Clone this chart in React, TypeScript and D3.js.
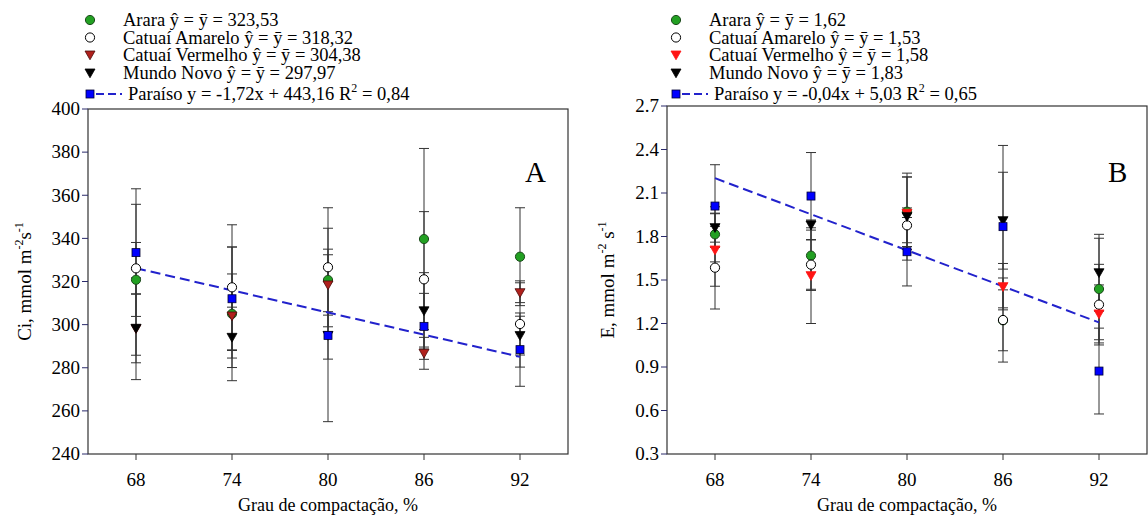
import React from 'react';
import * as d3 from 'd3';

// grau de compactação (%)
const grau = [68, 74, 80, 86, 92];

// Ci (painel A)
const ciArara = [320.8, 305.0, 320.7, 339.7, 331.5];
const ciAraraErr = [35, 31, 24, 42, 22.7];
const ciAmarelo = [326.1, 317.3, 326.6, 321.0, 300.3];
const ciAmareloErr = [12, 29, 27.6, 31.4, 20];
const ciVermelho = [298.1, 304.0, 318.4, 286.7, 314.8];
const ciVermelhoErr = [23.6, 19.5, 14, 7.4, 4.6];
const ciMundo = [298.3, 294.1, 295.0, 306.4, 294.9];
const ciMundoErr = [16, 14, 11, 17.7, 9];
const ciParaiso = [333.4, 312.0, 295.0, 299.2, 288.4];
const ciParaisoErr = [29.6, 24, 40, 15.3, 17];

// E (painel B)
const eArara = [1.815, 1.668, 1.971, 1.222, 1.438];
const eAraraErr = [0.19, 0.24, 0.24, 0.21, 0.35];
const eAmarelo = [1.585, 1.606, 1.877, 1.224, 1.33];
const eAmareloErr = [0.285, 0.17, 0.12, 0.29, 0.278];
const eVermelho = [1.707, 1.53, 1.96, 1.454, 1.266];
const eVermelhoErr = [0.25, 0.33, 0.25, 0.16, 0.2];
const eMundo = [1.861, 1.879, 1.937, 1.909, 1.55];
const eMundoErr = [0.1, 0.035, 0.3, 0.334, 0.265];
const eParaiso = [2.01, 2.079, 1.695, 1.868, 0.872];
const eParaisoErr = [0.285, 0.3, 0.236, 0.56, 0.296];

const ciTicks = [240, 260, 280, 300, 320, 340, 360, 380, 400];
const eTicks = [0.3, 0.6, 0.9, 1.2, 1.5, 1.8, 2.1, 2.4, 2.7];

const legendA = [
  'Arara ŷ = ȳ = 323,53',
  'Catuaí Amarelo ŷ = ȳ = 318,32',
  'Catuaí Vermelho ŷ = ȳ = 304,38',
  'Mundo Novo ŷ = ȳ = 297,97',
  'Paraíso y = -1,72x + 443,16 R',
];
const legendB = [
  'Arara ŷ = ȳ = 1,62',
  'Catuaí Amarelo ŷ = ȳ = 1,53',
  'Catuaí Vermelho ŷ = ȳ = 1,58',
  'Mundo Novo ŷ = ȳ = 1,83',
  'Paraíso y = -0,04x + 5,03 R',
];
const r2A = ' = 0,84';
const r2B = ' = 0,65';

const serif = 'Liberation Serif';

function Marker({ shape, x, y, fill, stroke }) {
  if (shape === 'circle') {
    return <circle cx={x} cy={y} r={4.6} fill={fill} stroke={stroke} strokeWidth={1} />;
  }
  if (shape === 'square') {
    return <rect x={x - 4} y={y - 4} width={8} height={8} fill={fill} stroke={stroke} strokeWidth={0.8} />;
  }
  // triangulo invertido
  const s = 5;
  return (
    <path
      d={`M${x - s},${y - s * 0.8} L${x + s},${y - s * 0.8} L${x},${y + s * 0.95} Z`}
      fill={fill}
      stroke={stroke}
      strokeWidth={0.8}
    />
  );
}

function Panel({ left, right, top, bottom, yDomain, yTicks, tickFmt, series, legend, r2, legX, letter, letterX, yTitle, yTitleX, sGap }) {
  const x = d3.scaleLinear().domain([65, 95]).range([left, right]);
  const y = d3.scaleLinear().domain(yDomain).range([bottom, top]);

  // ajuste linear do Paraíso
  const par = series[4].values;
  const mx = d3.mean(grau);
  const my = d3.mean(par);
  const slope = d3.sum(grau, (g, i) => (g - mx) * (par[i] - my)) / d3.sum(grau, (g) => (g - mx) ** 2);
  const fit = (g) => my + slope * (g - mx);
  const line = d3.line().x((d) => x(d)).y((d) => y(fit(d)));

  const rows = [26, 43.5, 61, 79, 100];
  const textX = legX + 33;

  return (
    <g>
      {/* legenda */}
      {legend.map((t, i) => (
        <g key={i}>
          <Marker shape={series[i].shape} x={legX} y={rows[i] - 6} fill={series[i].fill} stroke={series[i].stroke} />
          {i < 4 ? (
            <text x={textX} y={rows[i]} fontSize={18.5} fontFamily={serif}>{t}</text>
          ) : (
            <>
              <line x1={legX + 6} x2={legX + 32} y1={rows[i] - 6} y2={rows[i] - 6} stroke="#2222cc" strokeWidth={2} strokeDasharray="8,4" />
              <text x={textX + 5} y={rows[i]} fontSize={18.5} fontFamily={serif}>
                {t}
                <tspan dy={-8} fontSize={12}>2</tspan>
                <tspan dy={8}>{r2}</tspan>
              </text>
            </>
          )}
        </g>
      ))}

      {/* moldura */}
      <rect x={left} y={top} width={right - left} height={bottom - top} fill="none" stroke="#333" strokeWidth={1.2} />

      {/* eixo y */}
      {yTicks.map((t) => (
        <g key={t}>
          <line x1={left - 6} x2={left} y1={y(t)} y2={y(t)} stroke="#2a2a6a" strokeWidth={1} />
          <text x={left - 8} y={y(t)} dy="0.33em" textAnchor="end" fontSize={19} fontFamily={serif}>{tickFmt(t)}</text>
        </g>
      ))}
      <text transform={`translate(${yTitleX},${(top + bottom) / 2}) rotate(-90)`} textAnchor="middle" fontSize={19} fontFamily={serif}>
        {yTitle}
        <tspan dy={-8} fontSize={12}>-2</tspan>
        <tspan dy={8}>{sGap ? ' s' : 's'}</tspan>
        <tspan dy={-8} fontSize={12}>-1</tspan>
      </text>

      {/* eixo x */}
      {grau.map((g) => (
        <g key={g}>
          <line x1={x(g)} x2={x(g)} y1={bottom} y2={bottom + 6} stroke="#333" strokeWidth={1} />
          <text x={x(g)} y={486} textAnchor="middle" fontSize={19} fontFamily={serif}>{g}</text>
        </g>
      ))}
      <text x={x(80)} y={511} textAnchor="middle" fontSize={18} fontFamily={serif}>Grau de compactação, %</text>

      {/* barras de erro */}
      {series.map((s, si) =>
        grau.map((g, i) => {
          const hi = y(s.values[i] + s.err[i]);
          const lo = y(s.values[i] - s.err[i]);
          const cx = x(g);
          return (
            <g key={`${si}-${i}`} stroke="#333" strokeWidth={1}>
              <line x1={cx} x2={cx} y1={hi} y2={lo} />
              <line x1={cx - 5} x2={cx + 5} y1={hi} y2={hi} />
              <line x1={cx - 5} x2={cx + 5} y1={lo} y2={lo} />
            </g>
          );
        })
      )}

      {/* regressão */}
      <path d={line([grau[0], grau[grau.length - 1]])} fill="none" stroke="#2222cc" strokeWidth={2} strokeDasharray="10,5" />

      {/* pontos */}
      {series.map((s, si) =>
        grau.map((g, i) => (
          <Marker key={`m${si}-${i}`} shape={s.shape} x={x(g)} y={y(s.values[i])} fill={s.fill} stroke={s.stroke} />
        ))
      )}

      <text x={letterX} y={182} fontSize={29} fontFamily={serif}>{letter}</text>
    </g>
  );
}

export default function App() {
  const seriesA = [
    { shape: 'circle', fill: '#22a022', stroke: '#1c4a1c', values: ciArara, err: ciAraraErr },
    { shape: 'circle', fill: '#ffffff', stroke: '#000', values: ciAmarelo, err: ciAmareloErr },
    { shape: 'tri', fill: '#b0201c', stroke: '#4a0a0a', values: ciVermelho, err: ciVermelhoErr },
    { shape: 'tri', fill: '#000', stroke: '#000', values: ciMundo, err: ciMundoErr },
    { shape: 'square', fill: '#0000ff', stroke: '#000033', values: ciParaiso, err: ciParaisoErr },
  ];
  const seriesB = [
    { shape: 'circle', fill: '#22a022', stroke: '#1c4a1c', values: eArara, err: eAraraErr },
    { shape: 'circle', fill: '#ffffff', stroke: '#000', values: eAmarelo, err: eAmareloErr },
    { shape: 'tri', fill: '#ff1414', stroke: '#ff1414', values: eVermelho, err: eVermelhoErr },
    { shape: 'tri', fill: '#000', stroke: '#000', values: eMundo, err: eMundoErr },
    { shape: 'square', fill: '#0000ff', stroke: '#000033', values: eParaiso, err: eParaisoErr },
  ];

  return (
    <svg width={1148} height={523} fontFamily={serif} style={{ position: 'absolute', left: 0, top: 0, background: '#fff' }}>
      <Panel
        left={88} right={568} top={109} bottom={454}
        yDomain={[240, 400]} yTicks={ciTicks} tickFmt={(t) => String(t)}
        series={seriesA} legend={legendA} r2={r2A} legX={90}
        letter="A" letterX={525}
        yTitle="Ci, mmol m" yTitleX={31} sGap={false}
      />
      <Panel
        left={667} right={1147} top={106} bottom={454}
        yDomain={[0.3, 2.7]} yTicks={eTicks} tickFmt={(t) => t.toFixed(1)}
        series={seriesB} legend={legendB} r2={r2B} legX={676}
        letter="B" letterX={1108}
        yTitle="E, mmol m" yTitleX={614} sGap={true}
      />
    </svg>
  );
}
